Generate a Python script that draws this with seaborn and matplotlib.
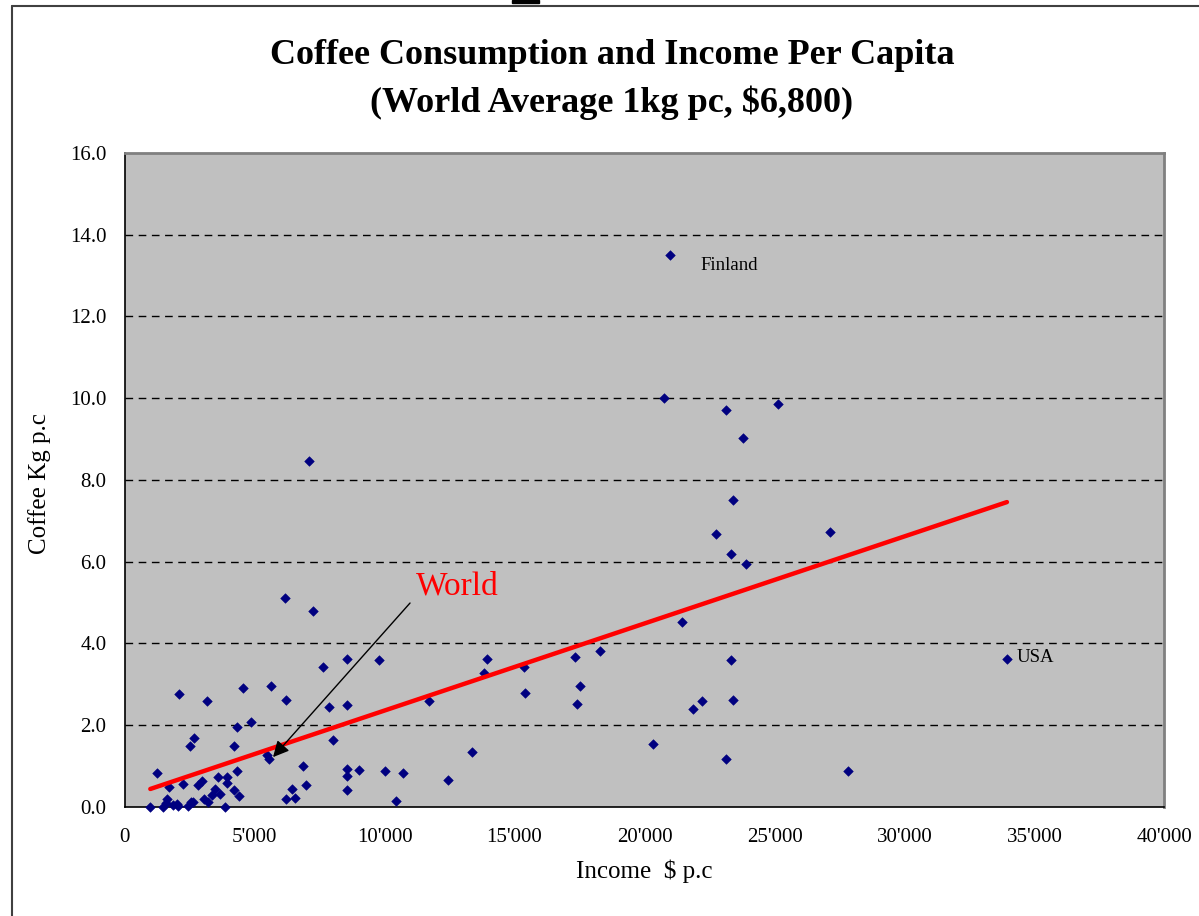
import numpy as np
import matplotlib
matplotlib.use("Agg")
import matplotlib.pyplot as plt
from matplotlib.lines import Line2D
from matplotlib.patches import Rectangle
import seaborn as sns

# Income per capita (US$) and coffee consumption per capita (kg) by country
income = [
    20980, 20750, 23120, 25120, 23800, 7100, 23420, 22740, 27140, 23330,
    23920, 6160, 7230, 21430, 33940, 23330, 17310, 18300, 13930, 13810,
    15370, 15400, 17520, 17420, 21850, 22230, 23420, 20310, 23120, 27820,
    11710, 13350, 12450, 10720, 8540, 9800, 7630, 7860, 8540, 8020,
    6870, 6960, 8560, 8560, 9030, 10030, 8560, 10440, 2100, 3160,
    4540, 5630, 6210, 4850, 4310, 2670, 2520, 4210, 5470, 5540,
    4310, 1260, 2260, 1700, 2970, 2840, 3600, 3950, 3940, 3480,
    3670, 3360, 4220, 4410, 6430, 6540, 6210, 3050, 3220, 1620,
    2540, 2640, 990, 1490, 1870, 2070, 2450, 3860, 1590, 2000,
]
coffee = [
    13.50, 10.00, 9.70, 9.87, 9.03, 8.46, 7.52, 6.69, 6.72, 6.18,
    5.94, 5.11, 4.80, 4.53, 3.62, 3.59, 3.66, 3.82, 3.63, 3.27,
    3.43, 2.79, 2.96, 2.52, 2.39, 2.59, 2.62, 1.54, 1.17, 0.87,
    2.59, 1.35, 0.67, 0.84, 3.63, 3.59, 3.43, 2.45, 2.50, 1.64,
    1.01, 0.53, 0.94, 0.76, 0.91, 0.87, 0.41, 0.14, 2.76, 2.59,
    2.92, 2.96, 2.62, 2.07, 1.95, 1.68, 1.48, 1.48, 1.27, 1.17,
    0.87, 0.84, 0.57, 0.49, 0.63, 0.53, 0.73, 0.74, 0.58, 0.45,
    0.33, 0.29, 0.41, 0.26, 0.43, 0.22, 0.20, 0.20, 0.11, 0.19,
    0.11, 0.11, 0.00, 0.00, 0.05, 0.02, 0.02, 0.00, 0.09, 0.07,
]

# Linear trend of consumption on income
trend_intercept = 0.23
trend_slope = 0.000213

# Labelled points
callouts = {"Finland": (20980, 13.50), "USA": (33940, 3.62)}

x_ticks = [0, 5000, 10000, 15000, 20000, 25000, 30000, 35000, 40000]
y_ticks = [0.0, 2.0, 4.0, 6.0, 8.0, 10.0, 12.0, 14.0, 16.0]

sns.set_style("white")
plt.rcParams["font.family"] = ["Liberation Serif", "DejaVu Serif"]
plt.rcParams["text.color"] = "black"
plt.rcParams["axes.labelcolor"] = "black"
plt.rcParams["xtick.color"] = "black"
plt.rcParams["ytick.color"] = "black"

fig = plt.figure(figsize=(11.99, 9.16), dpi=100)
ax = fig.add_axes([0.1039, 0.1190, 0.8673, 0.7140])
ax.set_facecolor("#C0C0C0")

# Dashed horizontal gridlines
for yv in y_ticks[1:-1]:
    ax.axhline(yv, color="black", lw=1.0, ls=(0, (5.5, 4)), zorder=1)

sns.scatterplot(x=income, y=coffee, marker="D", s=24, color="#000080",
                edgecolor="#000080", linewidth=0.4, ax=ax, zorder=3,
                clip_on=False, legend=False)

xs = np.array([min(income), max(income)])
sns.lineplot(x=xs, y=trend_intercept + trend_slope * xs, color="#FF0000",
             lw=3.2, ax=ax, zorder=4, legend=False)

ax.set_xlim(x_ticks[0], x_ticks[-1])
ax.set_ylim(y_ticks[0], y_ticks[-1])
ax.set_xticks(x_ticks)
ax.set_xticklabels([f"{v:,}".replace(",", "'") for v in x_ticks])
ax.set_yticks(y_ticks)
ax.set_yticklabels([f"{v:.1f}" for v in y_ticks])
ax.tick_params(axis="x", direction="out", length=8, width=1, pad=7,
               labelsize=15, colors="black")
ax.tick_params(axis="y", direction="out", length=5, width=1, pad=8,
               labelsize=15, colors="black")
ax.set_xlabel("")
ax.set_ylabel("")

for side in ("left", "bottom"):
    ax.spines[side].set_color("black")
    ax.spines[side].set_linewidth(1.2)
for side in ("top", "right"):
    ax.spines[side].set_color("#808080")
    ax.spines[side].set_linewidth(2)

# Point labels
ax.text(callouts["Finland"][0] + 1170, 13.14, "Finland", fontsize=13.5,
        va="baseline", ha="left", color="black")
ax.text(callouts["USA"][0] + 360, 3.55, "USA", fontsize=13.5,
        va="baseline", ha="left", color="black")

# World average annotation
ax.annotate("", xy=(5710, 1.22), xytext=(10980, 4.99),
            arrowprops=dict(arrowstyle="-|>", color="black", lw=1,
                            mutation_scale=24, shrinkA=0, shrinkB=0),
            zorder=5)
ax.text(11214, 5.19, "World", color="#FF0000", fontsize=24,
        va="baseline", ha="left")

# Titles and axis labels
fig.text(612 / 1199, 1 - 56 / 916, "Coffee Consumption and Income Per Capita",
         ha="center", va="center", fontsize=26, fontweight="bold", color="black")
fig.text(612 / 1199, 1 - 103 / 916, "(World Average 1kg pc, $6,800)",
         ha="center", va="center", fontsize=26, fontweight="bold", color="black")
fig.text(644 / 1199, 1 - 878 / 916, "Income  $ p.c", ha="center",
         va="baseline", fontsize=18, color="black")
fig.text(40 / 1199, 1 - 484 / 916, "Coffee Kg p.c", ha="center",
         va="center", rotation=90, fontsize=18, color="black")

# Page frame
frame_kw = dict(color="#404040", lw=1.5, transform=fig.transFigure)
fig.add_artist(Line2D([11.5 / 1199, 11.5 / 1199], [1 - 5.5 / 916, 0], **frame_kw))
fig.add_artist(Line2D([11.5 / 1199, 1], [1 - 5.5 / 916, 1 - 5.5 / 916], **frame_kw))
fig.add_artist(Rectangle((512 / 1199, 1 - 3 / 916), 27 / 1199, 3 / 916,
                         color="black", transform=fig.transFigure))

fig.savefig("out.png", dpi=100, facecolor="white")
